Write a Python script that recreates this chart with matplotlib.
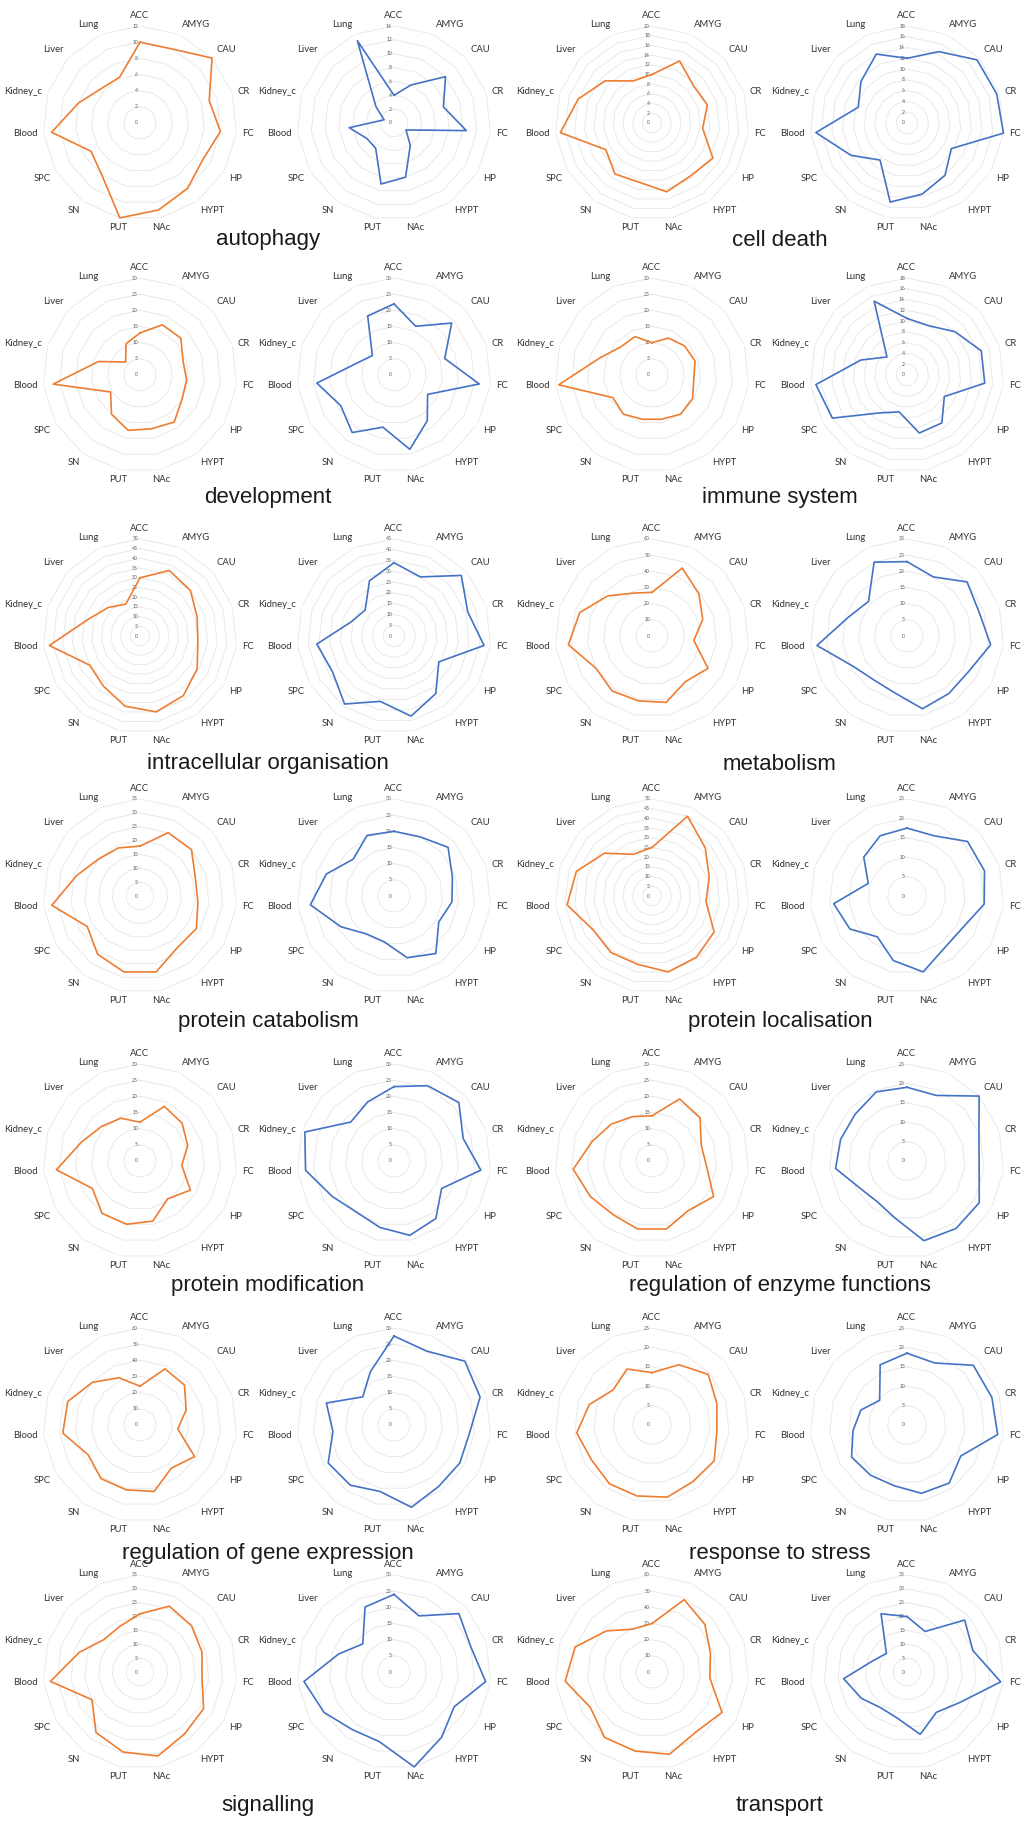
import numpy as np
import matplotlib
matplotlib.use('Agg')
import matplotlib.pyplot as plt
from matplotlib.transforms import offset_copy

# tissues, clockwise from the top
categories = ['ACC', 'AMYG', 'CAU', 'CR', 'FC', 'HP', 'HYPT', 'NAc', 'PUT', 'SN',
              'SPC', 'Blood', 'Kidney_c', 'Liver', 'Lung']

titles = ['autophagy', 'cell death', 'development', 'immune system',
          'intracellular organisation', 'metabolism', 'protein catabolism',
          'protein localisation', 'protein modification', 'regulation of enzyme functions',
          'regulation of gene expression', 'response to stress', 'signalling', 'transport']

# orange = first chart of each pair, blue = second
autophagy_o = [10, 10, 12, 9, 10, 9, 10, 11, 12, 8, 7, 11, 8, 6.4, 6.2]
autophagy_b = [4, 6, 10, 7.5, 10.5, 2, 4, 8, 9, 4.5, 4.5, 6.5, 1.5, 3.5, 13]
cell_death_o = [10, 14, 11.5, 12, 10.5, 14.5, 13.5, 14.5, 12.5, 13, 11, 19, 16, 13, 9.5]
cell_death_b = [12, 14.5, 17.5, 17.5, 18, 9.5, 12, 13.5, 15, 8.5, 12, 17, 9.5, 11.5, 14]
development_o = [13, 17, 17, 14, 14.5, 15, 18, 17, 17.5, 15, 10.5, 27, 13.5, 6, 10.6]
development_b = [22, 16.5, 24, 16.5, 26.5, 12, 17.5, 23.5, 16.5, 22, 19, 24, 12, 9, 20]
immune_o = [10, 12.5, 13.5, 14, 13, 14.5, 15, 14, 14, 15, 14, 29, 17, 13, 13]
immune_b = [10.5, 10, 12, 14.5, 14.5, 8, 11, 11, 7, 8.7, 16, 17, 9, 5, 15]
intracellular_o = [30, 37, 35, 31, 30, 34, 38, 40, 37, 32, 30, 47, 28, 22, 18]
intracellular_b = [34, 30, 42, 36, 42, 24, 33, 38, 31, 39, 33, 36, 21, 18, 28]
metabolism_o = [27, 46, 39, 33, 26, 40, 35, 42, 41, 42, 40, 52, 47, 37, 29]
metabolism_b = [23, 20, 25, 23.5, 26, 22, 22, 23, 18, 17, 19, 28, 19, 16, 25]
catabolism_o = [18, 25, 25, 21, 21, 23.5, 23, 28, 28, 26, 22, 32, 24, 20, 19]
catabolism_b = [20, 20, 22.5, 19, 18, 16, 22, 19.5, 14.5, 14.5, 19, 26, 22, 17, 20.5]
localisation_o = [25, 45, 37, 31, 28, 37, 39, 40, 36, 36, 35, 44, 41, 33, 23.5]
localisation_b = [17.5, 17, 21, 21, 20, 16.5, 16.5, 20, 17, 13, 17, 19, 10.5, 15, 17]
modification_o = [12, 18.5, 17.5, 15.5, 13, 18, 14.5, 19, 20, 20, 17, 26, 19, 16, 14.5]
modification_b = [23, 25.5, 27, 22.5, 27, 17, 22, 23.5, 21, 19.6, 22, 27.5, 29, 18, 20]
enzyme_o = [14, 21, 20, 16, 17, 22, 19, 21.5, 21.5, 20.5, 22, 24.5, 19.5, 17, 15]
enzyme_b = [19, 18.5, 25, 19.5, 18.7, 21.5, 21.5, 21, 15, 13, 14, 18.5, 18, 18, 19.5]
gene_expr_o = [24, 38, 37, 30, 23.5, 39, 33, 42, 41, 41, 37, 48, 47, 39.5, 32]
gene_expr_b = [27.5, 25, 29.5, 28, 23.5, 23.5, 23.5, 26, 21, 23, 23.5, 19, 22, 13, 18]
stress_o = [13.5, 17, 19.5, 17.6, 16.8, 18.5, 18, 19, 18.7, 18.7, 18, 19.5, 17, 13.5, 15.8]
stress_b = [18.5, 17.5, 23, 23, 23.5, 16, 18.5, 18, 16, 16, 16.5, 14, 12.5, 9.5, 17]
signalling_o = [21, 26, 25, 23.5, 22.5, 26.5, 27.5, 31, 29.5, 27, 20, 32.5, 23, 17.5, 18]
signalling_b = [24, 19, 27, 25, 28.5, 21.5, 25, 30, 22, 22, 25, 28, 18, 13, 22]
transport_o = [30, 49, 44, 38, 36, 50, 46, 52, 50, 50, 44, 54, 50, 38, 29]
transport_b = [20, 16, 28, 25, 34, 22, 18, 23, 17, 16, 19, 23, 13, 10, 23]

# radial tick maximum and step for each chart, row by row
tick_max = [12, 14, 20, 18,
            30, 30, 30, 18,
            50, 45, 60, 30,
            35, 30, 50, 25,
            30, 30, 30, 25,
            60, 30, 25, 25,
            35, 30, 60, 35]
tick_step = [2, 2, 2, 2,
             5, 5, 5, 2,
             5, 5, 10, 5,
             5, 5, 5, 5,
             5, 5, 5, 5,
             10, 5, 5, 5,
             5, 5, 10, 5]

series = [autophagy_o, autophagy_b, cell_death_o, cell_death_b,
          development_o, development_b, immune_o, immune_b,
          intracellular_o, intracellular_b, metabolism_o, metabolism_b,
          catabolism_o, catabolism_b, localisation_o, localisation_b,
          modification_o, modification_b, enzyme_o, enzyme_b,
          gene_expr_o, gene_expr_b, stress_o, stress_b,
          signalling_o, signalling_b, transport_o, transport_b]

ORANGE = '#ED7D31'
BLUE = '#4472C4'
GRID = '#E6E6E6'

W, H = 1029, 1822
fig = plt.figure(figsize=(W / 100, H / 100), dpi=100)
fig.patch.set_facecolor('white')

col_x = [140, 394, 652, 907]
row_y = [123, 375, 636, 896, 1161, 1425, 1672]
title_y = [240, 498, 764, 1022, 1285, 1553, 1806]
title_x = [268, 780]
R = 97

n = len(categories)
theta = np.linspace(0, 2 * np.pi, n, endpoint=False)
theta_c = np.append(theta, theta[0])

label_font = ['Lato', 'DejaVu Sans']
title_font = ['Liberation Sans Narrow', 'Liberation Sans', 'DejaVu Sans']

for i, vals in enumerate(series):
    row, col = divmod(i, 4)
    cx, cy = col_x[col], row_y[row]
    ax = fig.add_axes([(cx - R) / W, 1 - (cy + R) / H, 2 * R / W, 2 * R / H], projection='polar')
    ax.set_theta_offset(np.pi / 2)
    ax.set_theta_direction(-1)
    vmax = tick_max[i]
    ax.set_ylim(0, vmax)
    ax.grid(False)
    ax.spines['polar'].set_visible(False)
    ax.set_xticks([])
    ax.set_yticks([])
    ax.patch.set_alpha(0)

    levels = np.arange(0, vmax + tick_step[i] / 2, tick_step[i])
    for lvl in levels[1:]:
        ax.plot(theta_c, [lvl] * (n + 1), color=GRID, lw=0.6, zorder=1)
    tick_tr = offset_copy(ax.transData, fig=fig, x=-1.5, y=0, units='points')
    for lvl in levels:
        ax.text(0, lvl, '%g' % lvl, transform=tick_tr, ha='right', va='center',
                fontsize=3.6, color='#595959', family=label_font)

    color = ORANGE if i % 2 == 0 else BLUE
    v = np.append(vals, vals[0])
    ax.plot(theta_c, v, color=color, lw=1.2, zorder=3, clip_on=False)

    for t, name in zip(theta, categories):
        a = np.pi / 2 - t
        dx, dy = np.cos(a), np.sin(a)
        if abs(dx) < 0.3:
            ha = 'center'
        else:
            ha = 'left' if dx > 0 else 'right'
        if abs(dy) < 0.45:
            va = 'center'
        else:
            va = 'bottom' if dy > 0 else 'top'
        tr = offset_copy(ax.transData, fig=fig, x=4 * dx, y=4 * dy, units='points')
        ax.text(t, vmax, name, transform=tr, ha=ha, va=va, fontsize=6.8,
                color='#333333', family=label_font, clip_on=False)

for k, title in enumerate(titles):
    row, pair = divmod(k, 2)
    fig.text(title_x[pair] / W, 1 - title_y[row] / H, title, ha='center', va='center',
             fontsize=16, color='#1a1a1a', family=title_font)

fig.savefig('out.png', dpi=100, facecolor='white')
